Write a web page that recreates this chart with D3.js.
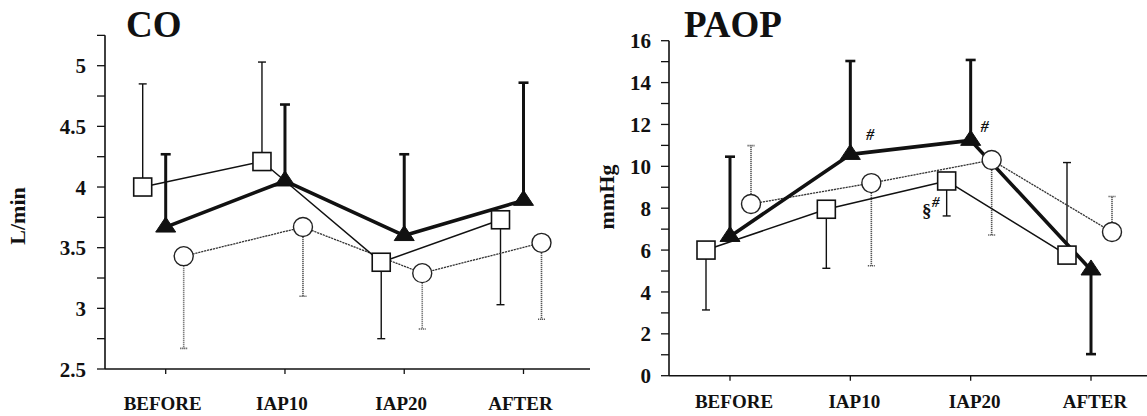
<!DOCTYPE html>
<html>
<head>
<meta charset="utf-8">
<script src="https://cdn.jsdelivr.net/npm/d3@7"></script>
<style>
  html, body { margin: 0; padding: 0; background: #fff; }
  svg { display: block; }
  text { font-family: "Liberation Serif", "Times New Roman", serif; font-weight: bold; fill: #111; }
</style>
</head>
<body>
<svg id="chart" width="1147" height="416"></svg>
<script>
// ---------- data ----------
const categories = ["BEFORE", "IAP10", "IAP20", "AFTER"];

// CO (L/min)
const coSquare    = [4.00, 4.21, 3.38, 3.73];
const coSquareSD  = [0.85, 0.82, 0.63, 0.70];
const coSquareDir = [1, 1, -1, -1];
const coTriangle    = [3.67, 4.05, 3.60, 3.89];
const coTriangleSD  = [0.60, 0.63, 0.67, 0.97];
const coTriangleDir = [1, 1, 1, 1];
const coCircle    = [3.43, 3.67, 3.29, 3.54];
const coCircleSD  = [0.76, 0.57, 0.46, 0.63];
const coCircleDir = [-1, -1, -1, -1];
const coTicks = [2.5, 3, 3.5, 4, 4.5, 5];

// PAOP (mmHg)
const paopSquare    = [6.0, 7.95, 9.30, 5.76];
const paopSquareSD  = [2.86, 2.82, 1.67, 4.42];
const paopSquareDir = [-1, -1, -1, 1];
const paopTriangle    = [6.65, 10.57, 11.24, 5.05];
const paopTriangleSD  = [3.81, 4.46, 3.84, 4.02];
const paopTriangleDir = [1, 1, 1, -1];
const paopCircle    = [8.20, 9.20, 10.30, 6.86];
const paopCircleSD  = [2.79, 3.95, 3.58, 1.70];
const paopCircleDir = [1, -1, -1, 1];
const paopTicks = [0, 2, 4, 6, 8, 10, 12, 14, 16];

const svg = d3.select("#chart");

function trianglePath(w, h) {
  return `M0,${-h * 2 / 3}L${w / 2},${h / 3}L${-w / 2},${h / 3}Z`;
}

function drawPanel(cfg) {
  const g = svg.append("g");
  const x = d3.scalePoint().domain(categories).range(cfg.xRange);
  const y = d3.scaleLinear().domain(cfg.yDomain).range(cfg.yRange);

  // axes lines
  g.append("line").attr("x1", cfg.axisX).attr("x2", cfg.axisX)
    .attr("y1", y(cfg.yTop)).attr("y2", y(cfg.yDomain[0]))
    .attr("stroke", "#111").attr("stroke-width", 1.6);
  g.append("line").attr("x1", cfg.axisX).attr("x2", cfg.xEnd)
    .attr("y1", y(cfg.yDomain[0])).attr("y2", y(cfg.yDomain[0]))
    .attr("stroke", "#111").attr("stroke-width", 1.6);

  // y ticks (minor + major)
  const minor = d3.range(cfg.yDomain[0], cfg.yTop + 1e-9, cfg.minorStep);
  g.selectAll(".ytick").data(minor).join("line")
    .attr("x1", cfg.axisX - 8).attr("x2", cfg.axisX)
    .attr("y1", d => y(d)).attr("y2", d => y(d))
    .attr("stroke", "#111").attr("stroke-width", 1.3);
  g.selectAll(".ylab").data(cfg.ticks).join("text")
    .attr("x", cfg.labelX).attr("y", d => y(d))
    .attr("dy", "0.36em").attr("text-anchor", "end")
    .style("font-size", cfg.tickFont + "px")
    .text(d => d3.format("")(d));

  // x ticks and labels
  g.selectAll(".xtick").data(categories).join("line")
    .attr("x1", d => x(d)).attr("x2", d => x(d))
    .attr("y1", y(cfg.yDomain[0])).attr("y2", y(cfg.yDomain[0]) + 5)
    .attr("stroke", "#111").attr("stroke-width", 1.3);
  g.selectAll(".xlab").data(categories).join("text")
    .attr("x", d => x(d) + cfg.catShift).attr("y", cfg.catY)
    .attr("text-anchor", "middle")
    .style("font-size", "19px")
    .text(d => d);

  // title
  g.append("text").attr("x", cfg.titleX).attr("y", 37)
    .style("font-size", "37px").text(cfg.title);

  // y-axis label
  g.append("text")
    .attr("transform", `translate(${cfg.yLabelX},${cfg.yLabelY}) rotate(-90)`)
    .attr("text-anchor", "middle")
    .style("font-size", "22px").text(cfg.yLabel);

  const series = cfg.series;

  // error bars
  series.forEach(s => {
    const eg = g.append("g");
    s.values.forEach((v, i) => {
      const cx = x(categories[i]) + s.dx;
      const tip = v + s.dir[i] * s.sd[i];
      eg.append("line").attr("x1", cx).attr("x2", cx)
        .attr("y1", y(v)).attr("y2", y(tip))
        .attr("stroke", s.errColor).attr("stroke-width", s.errWidth)
        .attr("stroke-dasharray", s.errDash);
      eg.append("line").attr("x1", cx - s.capW / 2).attr("x2", cx + s.capW / 2)
        .attr("y1", y(tip)).attr("y2", y(tip))
        .attr("stroke", s.errColor).attr("stroke-width", s.capWidth)
        .attr("stroke-dasharray", s.errDash);
    });
  });

  // lines
  series.forEach(s => {
    const line = d3.line().x((d, i) => x(categories[i]) + s.dx).y(d => y(d));
    g.append("path").datum(s.values).attr("d", line)
      .attr("fill", "none").attr("stroke", s.lineColor)
      .attr("stroke-width", s.lineWidth).attr("stroke-dasharray", s.lineDash)
      .attr("stroke-linejoin", "round");
  });

  // markers
  series.forEach(s => {
    const mg = g.append("g");
    s.values.forEach((v, i) => {
      const cx = x(categories[i]) + s.dx, cy = y(v);
      if (s.shape === "square") {
        mg.append("rect").attr("x", cx - 9).attr("y", cy - 9)
          .attr("width", 18).attr("height", 18)
          .attr("fill", "#fff").attr("stroke", "#111").attr("stroke-width", 1.6);
      } else if (s.shape === "circle") {
        mg.append("circle").attr("cx", cx).attr("cy", cy).attr("r", 9.5)
          .attr("fill", "#fff").attr("stroke", "#222").attr("stroke-width", 1.4);
      } else {
        mg.append("path").attr("d", trianglePath(20, 15))
          .attr("transform", `translate(${cx},${cy})`)
          .attr("fill", "#111").attr("stroke", "#111").attr("stroke-width", 1);
      }
    });
  });

  return { x, y, series };
}

function makeSeries(sq, sqSD, sqDir, tr, trSD, trDir, ci, ciSD, ciDir, sqDx, ciDx) {
  return [
    { shape: "circle", values: ci, sd: ciSD, dir: ciDir, dx: ciDx,
      lineColor: "#333", lineWidth: 1.3, lineDash: "2.2,0.8",
      errColor: "#555", errWidth: 1.6, errDash: "1.2,0.8", capW: 7, capWidth: 1.6 },
    { shape: "square", values: sq, sd: sqSD, dir: sqDir, dx: sqDx,
      lineColor: "#111", lineWidth: 1.5, lineDash: null,
      errColor: "#111", errWidth: 1.4, errDash: null, capW: 8, capWidth: 1.4 },
    { shape: "triangle", values: tr, sd: trSD, dir: trDir, dx: 0,
      lineColor: "#111", lineWidth: 3.6, lineDash: null,
      errColor: "#111", errWidth: 3, errDash: null, capW: 10, capWidth: 2.6 }
  ];
}

// CO panel
drawPanel({
  title: "CO", titleX: 126, yLabel: "L/min", yLabelX: 25, yLabelY: 216,
  xRange: [165.7, 523.5], axisX: 105, xEnd: 590,
  yDomain: [2.5, 5], yRange: [369, 65.7], yTop: 5.25, minorStep: 0.25,
  ticks: coTicks, labelX: 86, tickFont: 21, catY: 410, catShift: -3,
  series: makeSeries(coSquare, coSquareSD, coSquareDir,
                     coTriangle, coTriangleSD, coTriangleDir,
                     coCircle, coCircleSD, coCircleDir, -23, 18)
});

// PAOP panel
const p = drawPanel({
  title: "PAOP", titleX: 684, yLabel: "mmHg", yLabelX: 614, yLabelY: 197,
  xRange: [730, 1091], axisX: 669, xEnd: 1147,
  yDomain: [0, 16], yRange: [375.7, 40.7], yTop: 16, minorStep: 1,
  ticks: paopTicks, labelX: 651, tickFont: 21, catY: 408, catShift: 4,
  series: makeSeries(paopSquare, paopSquareSD, paopSquareDir,
                     paopTriangle, paopTriangleSD, paopTriangleDir,
                     paopCircle, paopCircleSD, paopCircleDir, -24, 21)
});

// significance marks
const ann = svg.append("g");
ann.append("text").attr("x", p.x("IAP10") + 20).attr("y", p.y(paopTriangle[1]) - 14)
  .attr("text-anchor", "middle").style("font-size", "16px").style("font-style", "italic").text("#");
ann.append("text").attr("x", p.x("IAP20") + 14).attr("y", p.y(paopTriangle[2]) - 8)
  .attr("text-anchor", "middle").style("font-size", "16px").style("font-style", "italic").text("#");
ann.append("text").attr("x", p.x("IAP20") - 24 - 20).attr("y", p.y(paopSquare[2]) + 36)
  .attr("text-anchor", "middle").style("font-size", "19px").text("§");
ann.append("text").attr("x", p.x("IAP20") - 24 - 11).attr("y", p.y(paopSquare[2]) + 26)
  .attr("text-anchor", "middle").style("font-size", "15px").style("font-style", "italic").text("#");
</script>
</body>
</html>
